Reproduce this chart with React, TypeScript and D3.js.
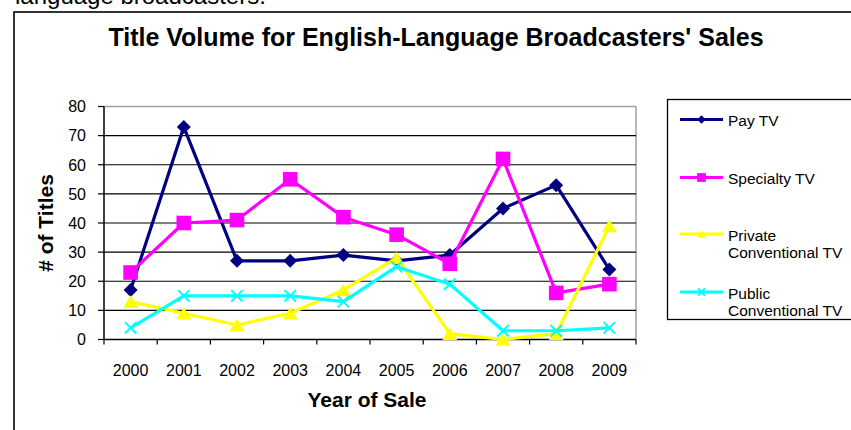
import React from "react";
import * as d3 from "d3";

const years = ["2000", "2001", "2002", "2003", "2004", "2005", "2006", "2007", "2008", "2009"];
const payTV = [17, 73, 27, 27, 29, 27, 29, 45, 53, 24];
const specialtyTV = [23, 40, 41, 55, 42, 36, 26, 62, 16, 19];
const privateConvTV = [13, 9, 5, 9, 17, 28, 2, 0, 2, 39];
const publicConvTV = [4, 15, 15, 15, 13, 25, 19, 3, 3, 4];
const yTicks = [0, 10, 20, 30, 40, 50, 60, 70, 80];
const seriesNames = [["Pay TV"], ["Specialty TV"], ["Private", "Conventional TV"], ["Public", "Conventional TV"]];

const FONT = "'Liberation Sans', Arial, sans-serif";

type Series = { name: string[]; values: number[]; color: string; marker: string };

const series: Series[] = [
  { name: seriesNames[0], values: payTV, color: "#000080", marker: "diamond" },
  { name: seriesNames[1], values: specialtyTV, color: "#FF00FF", marker: "square" },
  { name: seriesNames[2], values: privateConvTV, color: "#FFFF00", marker: "triangle" },
  { name: seriesNames[3], values: publicConvTV, color: "#00FFFF", marker: "x" },
];

function Marker({ type, x, y, color, s }: { type: string; x: number; y: number; color: string; s: number }) {
  if (type === "diamond") {
    const h = 7 * s;
    return <path d={`M${x},${y - h}L${x + h},${y}L${x},${y + h}L${x - h},${y}Z`} fill={color} />;
  }
  if (type === "square") {
    const h = 7.3 * s;
    return <rect x={x - h} y={y - h} width={2 * h} height={2 * h} fill={color} />;
  }
  if (type === "triangle") {
    const w = 7.5 * s;
    const hh = 6.3 * s;
    return <path d={`M${x},${y - hh}L${x + w},${y + hh}L${x - w},${y + hh}Z`} fill={color} />;
  }
  const h = 5.7 * s;
  return (
    <path
      d={`M${x - h},${y - h}L${x + h},${y + h}M${x - h},${y + h}L${x + h},${y - h}`}
      stroke={color}
      strokeWidth={2}
      fill="none"
    />
  );
}

export default function App() {
  const W = 851;
  const H = 430;
  const left = 104;
  const right = 636;
  const top = 106.5;
  const bottom = 339.5;

  const x = d3.scaleBand<string>().domain(years).range([left, right]).padding(0);
  const y = d3.scaleLinear().domain([0, 80]).range([bottom, top]);
  const cx = (yr: string) => (x(yr) as number) + x.bandwidth() / 2;

  const line = d3
    .line<number>()
    .x((_, i) => cx(years[i]))
    .y((d) => y(d));

  const legendY = [119.5, 177.5, 234, 292];

  return (
    <svg width={W} height={H} style={{ position: "absolute", left: 0, top: 0, background: "#fff" }} fontFamily={FONT}>
      <rect x={0} y={0} width={W} height={H} fill="#fff" />
      {/* cropped text above frame */}
      <text x={15} y={3.5} fontSize={24} fill="#000">language broadcasters.</text>
      {/* outer frame */}
      <rect x={14} y={12} width={W + 20} height={H + 20} fill="#fff" stroke="#000" strokeWidth={1.6} />
      {/* title */}
      <text x={436} y={45.5} fontSize={25} fontWeight="bold" textAnchor="middle" fill="#000">
        Title Volume for English-Language Broadcasters' Sales
      </text>
      {/* plot border (gray) */}
      <line x1={left} x2={right} y1={top} y2={top} stroke="#A0A0A0" strokeWidth={1.5} />
      <line x1={right} x2={right} y1={top} y2={bottom} stroke="#A0A0A0" strokeWidth={1.5} />
      {/* gridlines */}
      {yTicks
        .filter((t) => t > 0 && t < 80)
        .map((t) => (
          <line key={t} x1={left} x2={right} y1={y(t)} y2={y(t)} stroke="#000" strokeWidth={1.2} />
        ))}
      {/* axes */}
      <line x1={left} x2={left} y1={top} y2={bottom} stroke="#000" strokeWidth={1.5} />
      <line x1={left} x2={right} y1={bottom} y2={bottom} stroke="#000" strokeWidth={1.5} />
      {yTicks.map((t) => (
        <g key={t}>
          <line x1={left - 6} x2={left} y1={y(t)} y2={y(t)} stroke="#000" strokeWidth={1.2} />
          <text x={86} y={y(t)} dy="0.36em" fontSize={16} textAnchor="end" fill="#000">
            {t}
          </text>
        </g>
      ))}
      {[...years.map((yr) => x(yr) as number), right].map((bx, i) => (
        <line key={i} x1={bx} x2={bx} y1={bottom} y2={bottom + 5} stroke="#000" strokeWidth={1.2} />
      ))}
      {years.map((yr) => (
        <text key={yr} x={cx(yr)} y={376} fontSize={16} textAnchor="middle" fill="#000">
          {yr}
        </text>
      ))}
      {/* axis titles */}
      <text x={367} y={407} fontSize={21} fontWeight="bold" textAnchor="middle" fill="#000">
        Year of Sale
      </text>
      <text
        transform={`translate(53,223) rotate(-90)`}
        fontSize={21}
        fontWeight="bold"
        textAnchor="middle"
        fill="#000"
      >
        # of Titles
      </text>
      {/* series */}
      {series.map((s) => (
        <g key={s.name.join(" ")}>
          <path d={line(s.values) || ""} fill="none" stroke={s.color} strokeWidth={3.2} strokeLinejoin="round" />
          {s.values.map((v, i) => (
            <Marker key={i} type={s.marker} x={cx(years[i])} y={y(v)} color={s.color} s={1} />
          ))}
        </g>
      ))}
      {/* legend */}
      <rect x={667.5} y={99.5} width={W} height={220} fill="#fff" stroke="#000" strokeWidth={1.3} />
      {series.map((s, i) => (
        <g key={i}>
          <line x1={680} x2={723} y1={legendY[i]} y2={legendY[i]} stroke={s.color} strokeWidth={3} />
          <Marker type={s.marker} x={701.5} y={legendY[i]} color={s.color} s={0.6} />
          {s.name.map((n, j) => (
            <text key={j} x={728} y={legendY[i] + j * 17.5} dy="0.42em" fontSize={15.5} fill="#000">
              {n}
            </text>
          ))}
        </g>
      ))}
    </svg>
  );
}
